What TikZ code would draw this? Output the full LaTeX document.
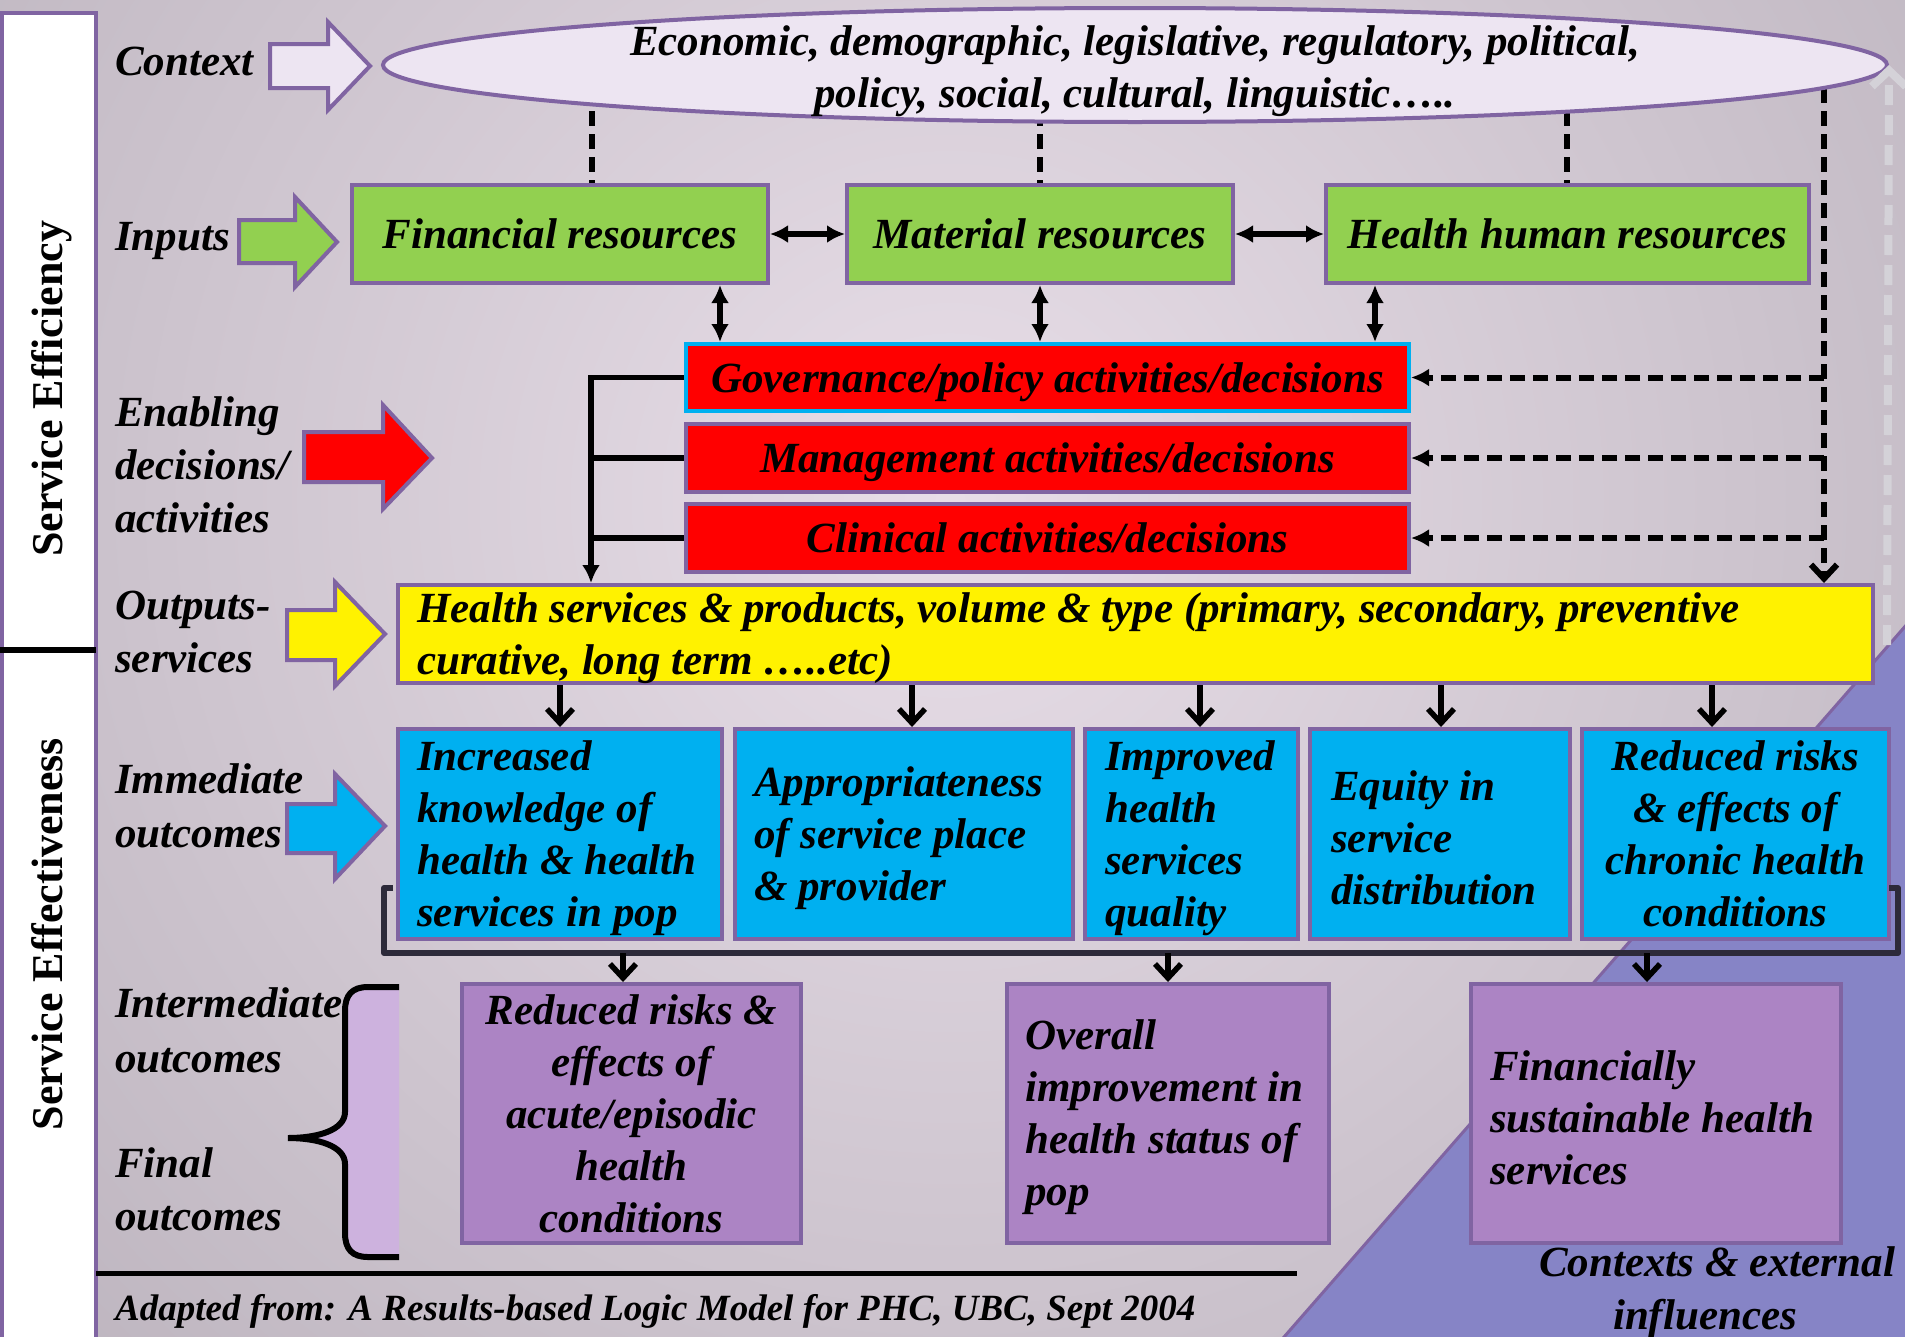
\documentclass[tikz,border=0pt]{standalone}
\usepackage{fontspec}
\setmainfont{Liberation Serif}
\usetikzlibrary{arrows.meta,shapes.geometric}
\pgfdeclarelayer{bgl}
\pgfdeclarelayer{lnl}
\pgfsetlayers{bgl,lnl,main}
\definecolor{bord}{RGB}{128,100,162}
\definecolor{grn}{RGB}{146,208,80}
\definecolor{blu}{RGB}{0,176,240}
\definecolor{pur}{RGB}{172,132,196}
\definecolor{tri}{RGB}{134,132,198}
\definecolor{lav}{RGB}{237,229,242}
\definecolor{bgin}{RGB}{232,222,232}
\definecolor{bgout}{RGB}{150,143,153}
\definecolor{brl}{RGB}{205,178,222}
\definecolor{brk}{RGB}{45,42,58}
\definecolor{lgray}{RGB}{212,210,216}
\pgfdeclareradialshading{bgshade}{\pgfpoint{0bp}{0bp}}{color(0bp)=(bgin); color(50bp)=(bgout)}
\begin{document}
\begin{tikzpicture}[x=1pt,y=-1pt,
  tx/.style={font=\fontsize{43}{52}\selectfont\bfseries\itshape, text=black},
  lbl/.style={tx, anchor=base west, inner sep=0pt},
  vtx/.style={font=\fontsize{44}{52}\selectfont\bfseries, text=black, rotate=90, anchor=base, inner sep=0pt},
  bx/.style={draw=bord, line width=4pt, inner sep=0pt, tx, align=center},
  btxt/.style={tx, align=left, anchor=west, inner sep=0pt, yshift=-4pt},
  blockarr/.style={draw=bord, line width=4pt, line join=miter},
  conn/.style={line width=5.5pt, draw=black},
  dconn/.style={line width=6pt, draw=black, dash pattern=on 15pt off 8pt},
  ftip/.style={-{Latex[length=18pt,width=18pt]}},
  dtip/.style={{Latex[length=18pt,width=18pt]}-{Latex[length=18pt,width=18pt]}},
  vtip/.style={-{Straight Barb[length=14pt,width=26pt]}},
]
\useasboundingbox (0,0) rectangle (1905,1336);

% ---------- background ----------
\begin{pgfonlayer}{bgl}
\begin{scope}
  \clip (0,0) rectangle (1905,1336);
  \shade[shading=bgshade] (950,500) circle (1200);
  \filldraw[fill=tri, draw=bord, line width=3pt] (1277,1345) -- (1915,615) -- (1915,1345) -- cycle;
  \draw[bord, line width=4pt, fill=white] (2,13) rectangle (96,1345);
  \draw[black, line width=6pt] (0,650) -- (96,650);
  \draw[black, line width=5pt] (96,1273) -- (1297,1273);
\end{scope}
\end{pgfonlayer}

% ---------- side column texts ----------
\node[vtx] (seff) at (62,389) {Service Efficiency};
\node[vtx] (sefv) at (62,934) {Service Effectiveness};

% ---------- left labels ----------
\node[lbl] (lctx) at (115,75) {Context};
\node[lbl] (linp) at (115,250) {Inputs};
\node[lbl] (len1) at (115,426) {Enabling};
\node[lbl] (len2) at (115,479) {decisions/};
\node[lbl] (len3) at (115,532) {activities};
\node[lbl] (lout1) at (115,619) {Outputs-};
\node[lbl] (lout2) at (115,672) {services};
\node[lbl] (lim1) at (115,793) {Immediate};
\node[lbl] (lim2) at (115,847) {outcomes};
\node[lbl] (lint1) at (115,1017) {Intermediate};
\node[lbl] (lint2) at (115,1072) {outcomes};
\node[lbl] (lfin1) at (115,1177) {Final};
\node[lbl] (lfin2) at (115,1230) {outcomes};
\node[lbl, font=\fontsize{37}{44}\selectfont\bfseries\itshape] (src) at (115,1320) {Adapted from: A Results-based Logic Model for PHC, UBC, Sept 2004};

% ---------- block arrows ----------
\draw[blockarr, fill=lav] (270,44) -- (328,44) -- (328,22) -- (370,66) -- (328,110) -- (328,88) -- (270,88) -- cycle;
\draw[blockarr, fill=grn] (239,220) -- (295,220) -- (295,197) -- (337,242) -- (295,287) -- (295,263) -- (239,263) -- cycle;
\draw[blockarr, fill=red] (304,432) -- (383,432) -- (383,405) -- (432,458) -- (383,509) -- (383,482) -- (304,482) -- cycle;
\draw[blockarr, fill=yellow] (287,610) -- (335,610) -- (335,582) -- (385,634) -- (335,686) -- (335,660) -- (287,660) -- cycle;
\draw[blockarr, fill=blu] (287,804) -- (335,804) -- (335,774) -- (385,826) -- (335,879) -- (335,853) -- (287,853) -- cycle;

% ---------- context ellipse ----------
\node[ellipse, draw=bord, line width=4pt, fill=lav, minimum width=1504pt, minimum height=114pt, inner sep=0pt] (ell) at (1135,65) {};
\node[tx, anchor=base, inner sep=0pt] (et1) at (1135,55) {Economic, demographic, legislative, regulatory, political,};
\node[tx, anchor=base, inner sep=0pt] (et2) at (1135,107) {policy, social, cultural, linguistic…..};

% ---------- inputs ----------
\node[bx, fill=grn, minimum width=416pt, minimum height=98pt, text depth=0pt] (fin) at (560,234) {Financial resources};
\node[bx, fill=grn, minimum width=386pt, minimum height=98pt, text depth=0pt] (mat) at (1040,234) {Material resources};
\node[bx, fill=grn, minimum width=483pt, minimum height=98pt, text depth=0pt] (hhr) at (1567.5,234) {Health human resources};

% ---------- enabling ----------
\node[bx, draw=blu, fill=red, minimum width=723pt, minimum height=67pt, text depth=0pt] (gov) at (1047.5,377.5) {Governance/policy activities/decisions};
\node[bx, fill=red, minimum width=723pt, minimum height=68pt, text depth=0pt] (man) at (1047.5,458) {Management activities/decisions};
\node[bx, fill=red, minimum width=723pt, minimum height=68pt, text depth=0pt] (cli) at (1047.5,538) {Clinical activities/decisions};

% ---------- outputs ----------
\node[bx, fill=yellow, minimum width=1475pt, minimum height=98pt] (yel) at (1135.5,634) {};
\node[btxt] (yeltx) at ([xshift=21pt]yel.west) {Health services \& products, volume \& type (primary, secondary, preventive\\curative, long term …..etc)};

% ---------- immediate outcomes ----------
\node[bx, fill=blu, minimum width=324pt, minimum height=210pt] (b1) at (560,834) {};
\node[bx, fill=blu, minimum width=338pt, minimum height=210pt] (b2) at (904,834) {};
\node[bx, fill=blu, minimum width=213pt, minimum height=210pt] (b3) at (1191.5,834) {};
\node[bx, fill=blu, minimum width=260pt, minimum height=210pt] (b4) at (1440,834) {};
\node[bx, fill=blu, minimum width=307pt, minimum height=210pt] (b5) at (1735.5,834) {Reduced risks\\\& effects of\\chronic health\\conditions};
\node[btxt] (b1tx) at ([xshift=21pt]b1.west) {Increased\\knowledge of\\health \& health\\services in pop};
\node[btxt] (b2tx) at ([xshift=21pt]b2.west) {Appropriateness\\of service place\\\& provider};
\node[btxt] (b3tx) at ([xshift=22pt]b3.west) {Improved\\health\\services\\quality};
\node[btxt] (b4tx) at ([xshift=23pt]b4.west) {Equity in\\service\\distribution};

% ---------- intermediate / final outcomes ----------
\node[bx, fill=pur, minimum width=339pt, minimum height=259pt] (p1) at (631.5,1113.5) {Reduced risks \&\\effects of\\acute/episodic\\health\\conditions};
\node[bx, fill=pur, minimum width=322pt, minimum height=259pt] (p2) at (1168,1113.5) {};
\node[bx, fill=pur, minimum width=370pt, minimum height=259pt] (p3) at (1656,1113.5) {};
\node[btxt] (p2tx) at ([xshift=20pt]p2.west) {Overall\\improvement in\\health status of\\pop};
\node[btxt] (p3tx) at ([xshift=21pt]p3.west) {Financially\\sustainable health\\services};

\node[tx, anchor=base, inner sep=0pt] (ext1) at (1717,1276) {Contexts \& external};
\node[tx, anchor=base, inner sep=0pt] (ext2) at (1705,1329) {influences};

% ---------- brace ----------
\filldraw[fill=brl, draw=black, line width=6pt] (399,987) -- (368,987) .. controls (352,987) and (345,995) .. (345,1011) -- (345,1112) .. controls (345,1130) and (318,1138) .. (288,1138) .. controls (318,1138) and (345,1146) .. (345,1164) -- (345,1233) .. controls (345,1249) and (352,1257) .. (368,1257) -- (399,1257);

% ---------- bracket under immediate outcomes ----------
\coordinate (bk0) at (393,888);
\coordinate (bk1) at (384,888);
\coordinate (bk2) at (384,953);
\coordinate (bk3) at (1898,953);
\coordinate (bk4) at (1898,888);
\coordinate (bk5) at (1889,888);
\draw[brk, line width=6pt, line join=round] (bk0) -- (bk1) -- (bk2) -- (bk3) -- (bk4) -- (bk5);

% ---------- connectors ----------
\coordinate (d1) at (592,0);
\coordinate (d3) at (1567,0);
\coordinate (d4) at (1824,0);
\coordinate (v1) at (720,0);
\coordinate (v3) at (1375,0);
\coordinate (c1) at (591,0);
\coordinate (a2) at (912,0);
\coordinate (a3) at (1200,0);
\coordinate (a4) at (1441,0);
\coordinate (a5) at (1712,0);
\coordinate (k1) at (623,953);
\coordinate (k2) at (1168,953);
\coordinate (k3) at (1647,953);
\coordinate (g1) at (1887,645);

\begin{pgfonlayer}{lnl}
  \draw[dconn] (ell.center -| d1) -- (fin.north -| d1);
  \draw[dconn] (ell.center -| mat.north) -- (mat.north);
  \draw[dconn] (ell.center -| d3) -- (hhr.north -| d3);
  \draw[dconn, vtip] (ell.center -| d4) -- (yel.north -| d4);
\end{pgfonlayer}

\draw[conn, dtip] (fin.east) -- (mat.west);
\draw[conn, dtip] (mat.east) -- (hhr.west);
\draw[conn, dtip] (fin.south -| v1) -- (gov.north -| v1);
\draw[conn, dtip] (mat.south) -- (gov.north -| mat.south);
\draw[conn, dtip] (hhr.south -| v3) -- (gov.north -| v3);

\draw[conn, ftip] (gov.west) -- (gov.west -| c1) -- (yel.north -| c1);
\draw[conn] (man.west) -- (man.west -| c1);
\draw[conn] (cli.west) -- (cli.west -| c1);

\draw[dconn, ftip] (gov.east -| d4) -- (gov.east);
\draw[dconn, ftip] (man.east -| d4) -- (man.east);
\draw[dconn, ftip] (cli.east -| d4) -- (cli.east);

\draw[conn, vtip] (yel.south -| b1.north) -- (b1.north);
\draw[conn, vtip] (yel.south -| a2) -- (b2.north -| a2);
\draw[conn, vtip] (yel.south -| a3) -- (b3.north -| a3);
\draw[conn, vtip] (yel.south -| a4) -- (b4.north -| a4);
\draw[conn, vtip] (yel.south -| a5) -- (b5.north -| a5);

\draw[conn, vtip] (k1) -- (p1.north -| k1);
\draw[conn, vtip] (k2) -- (p2.north -| k2);
\draw[conn, vtip] (k3) -- (p3.north -| k3);

\draw[lgray, line width=8pt, dash pattern=on 20pt off 10pt, -{Straight Barb[length=16pt,width=34pt]}] (g1) -- (ell.east);
\end{tikzpicture}
\end{document}
